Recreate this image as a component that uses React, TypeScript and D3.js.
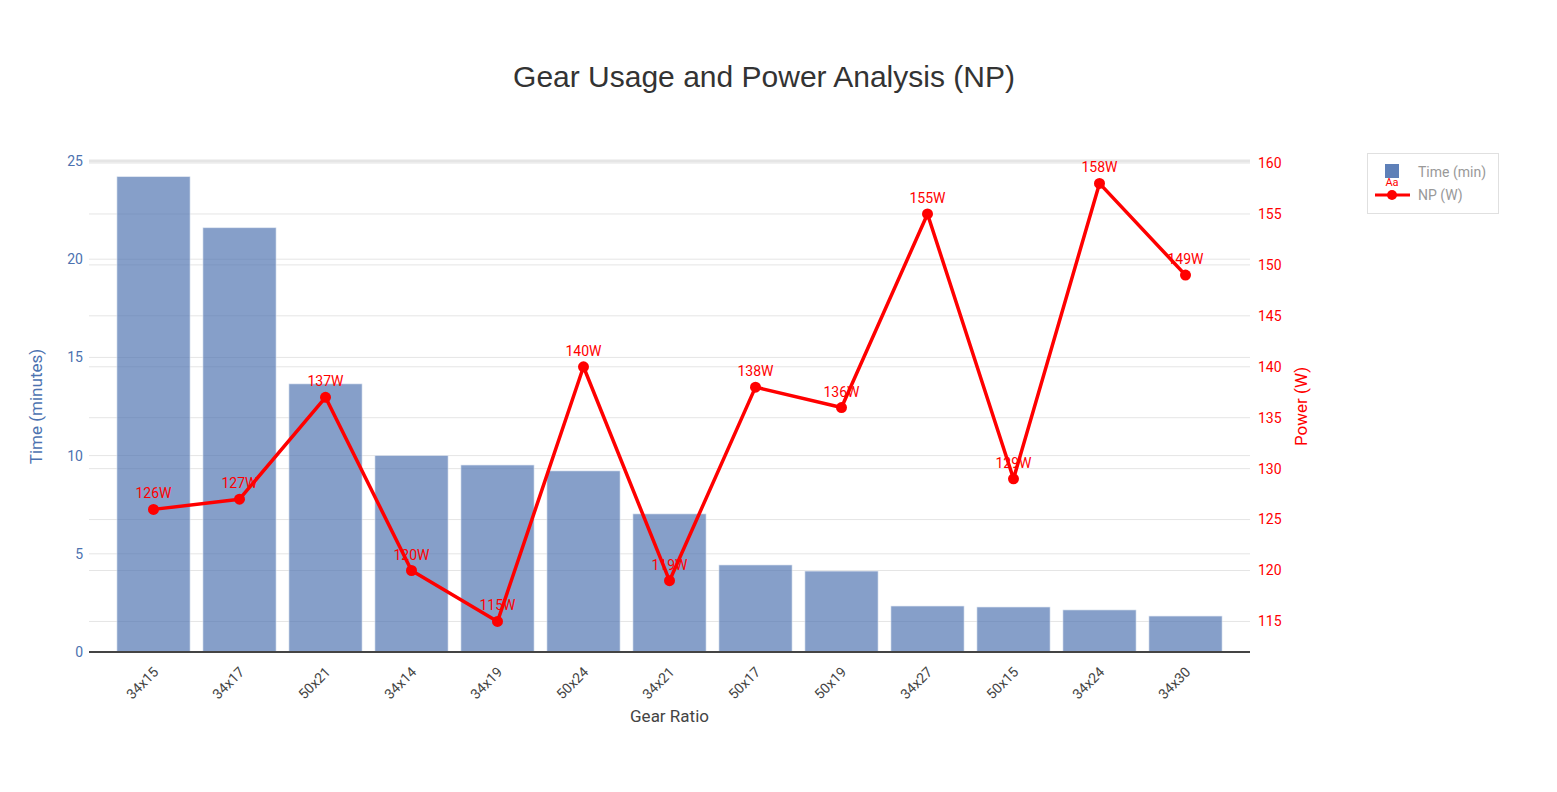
import React from 'react';
import * as d3 from 'd3';

const gears = ['34x15', '34x17', '50x21', '34x14', '34x19', '50x24', '34x21', '50x17', '50x19', '34x27', '50x15', '34x24', '34x30'];
const timeMin = [24.2, 21.6, 13.65, 10.0, 9.52, 9.22, 7.03, 4.43, 4.12, 2.34, 2.29, 2.14, 1.83];
const npWatts = [126, 127, 137, 120, 115, 140, 119, 138, 136, 155, 129, 158, 149];
const timeTicks = [0, 5, 10, 15, 20, 25];
const powerTicks = [115, 120, 125, 130, 135, 140, 145, 150, 155, 160];

const W = 1557;
const H = 792;
const margin = { top: 161, right: 307, bottom: 140, left: 89 };
const FONT = 'Roboto, "Open Sans", sans-serif';
const BLUE = '#4C72B0';
const RED = '#FF0000';

export default function App() {
  const x0 = margin.left;
  const x1 = W - margin.right;
  const y0 = H - margin.bottom;
  const y1 = margin.top;

  const x = d3.scaleBand<string>()
    .domain(gears)
    .range([x0, x1])
    .paddingInner(0.15)
    .paddingOuter(0.325);

  const yTime = d3.scaleLinear().domain([0, 25]).range([y0, y1]);
  const yPower = d3.scaleLinear().domain([112, 160.2]).range([y0, y1]);

  const cx = (g: string) => (x(g) ?? 0) + x.bandwidth() / 2;

  const line = d3.line<number>()
    .x((_, i) => cx(gears[i]))
    .y(d => yPower(d));

  return (
    <div style={{ margin: -8 }}>
      <svg width={W} height={H} style={{ display: 'block', background: '#fff', fontFamily: FONT }}>
        <text x={764} y={87} textAnchor="middle" fontSize={30} fill="#333" fontFamily='"Liberation Sans", Arial, sans-serif'>
          Gear Usage and Power Analysis (NP)
        </text>

        {/* grid lines */}
        {timeTicks.map(t => (
          <line key={'gt' + t} x1={x0} x2={x1} y1={yTime(t)} y2={yTime(t)} stroke="#e5e5e5" strokeWidth={t === 25 ? 3 : 1} />
        ))}
        {powerTicks.map(t => (
          <line key={'gp' + t} x1={x0} x2={x1} y1={yPower(t)} y2={yPower(t)} stroke="#e5e5e5" strokeWidth={1} />
        ))}

        {/* bars */}
        {gears.map((g, i) => (
          <rect
            key={g}
            x={x(g)}
            y={yTime(timeMin[i])}
            width={x.bandwidth()}
            height={y0 - yTime(timeMin[i])}
            fill={BLUE}
            fillOpacity={0.68}
            stroke="#dfe6f1"
            strokeWidth={0.6}
          />
        ))}

        {/* zero line */}
        <line x1={x0} x2={x1} y1={y0} y2={y0} stroke="#444" strokeWidth={2} />

        {/* NP line */}
        <path d={line(npWatts) ?? ''} fill="none" stroke={RED} strokeWidth={3.5} strokeLinejoin="round" />
        {npWatts.map((v, i) => (
          <circle key={'m' + i} cx={cx(gears[i])} cy={yPower(v)} r={5.5} fill={RED} />
        ))}
        {npWatts.map((v, i) => (
          <text key={'l' + i} x={cx(gears[i])} y={yPower(v) - 11} textAnchor="middle" fontSize={14} fill={RED}>
            {v}W
          </text>
        ))}

        {/* left axis */}
        {timeTicks.map(t => (
          <text key={'lt' + t} x={x0 - 6} y={yTime(t)} dy="0.35em" textAnchor="end" fontSize={14} fill={BLUE}>
            {t}
          </text>
        ))}
        <text transform={`translate(42,${(y0 + y1) / 2}) rotate(-90)`} textAnchor="middle" fontSize={17} fill={BLUE}>
          Time (minutes)
        </text>

        {/* right axis */}
        {powerTicks.map(t => (
          <text key={'rt' + t} x={x1 + 8} y={yPower(t)} dy="0.35em" textAnchor="start" fontSize={14} fill={RED}>
            {t}
          </text>
        ))}
        <text transform={`translate(1307,${(y0 + y1) / 2}) rotate(-90)`} textAnchor="middle" fontSize={17} fill={RED}>
          Power (W)
        </text>

        {/* x axis */}
        {gears.map(g => (
          <text
            key={'xt' + g}
            transform={`translate(${cx(g) - 1},${y0 + 14}) rotate(-45)`}
            textAnchor="end"
            dy="0.7em"
            fontSize={14}
            fill="#444"
          >
            {g}
          </text>
        ))}
        <text x={(x0 + x1) / 2} y={722} textAnchor="middle" fontSize={17} fill="#444">
          Gear Ratio
        </text>

        {/* legend */}
        <g transform="translate(1367,153)">
          <rect x={0.5} y={0.5} width={131} height={60} fill="#fff" stroke="#e0e0e0" strokeWidth={1} />
          <rect x={18} y={11} width={14} height={14} fill={BLUE} fillOpacity={0.9} />
          <text x={25} y={33} textAnchor="middle" fontSize={11} fill={RED}>Aa</text>
          <text x={51} y={19} dy="0.35em" fontSize={14} fill="#999">Time (min)</text>
          <line x1={8} x2={43} y1={42} y2={42} stroke={RED} strokeWidth={3} />
          <circle cx={25} cy={42} r={5} fill={RED} />
          <text x={51} y={42} dy="0.35em" fontSize={14} fill="#999">NP (W)</text>
        </g>
      </svg>
    </div>
  );
}
